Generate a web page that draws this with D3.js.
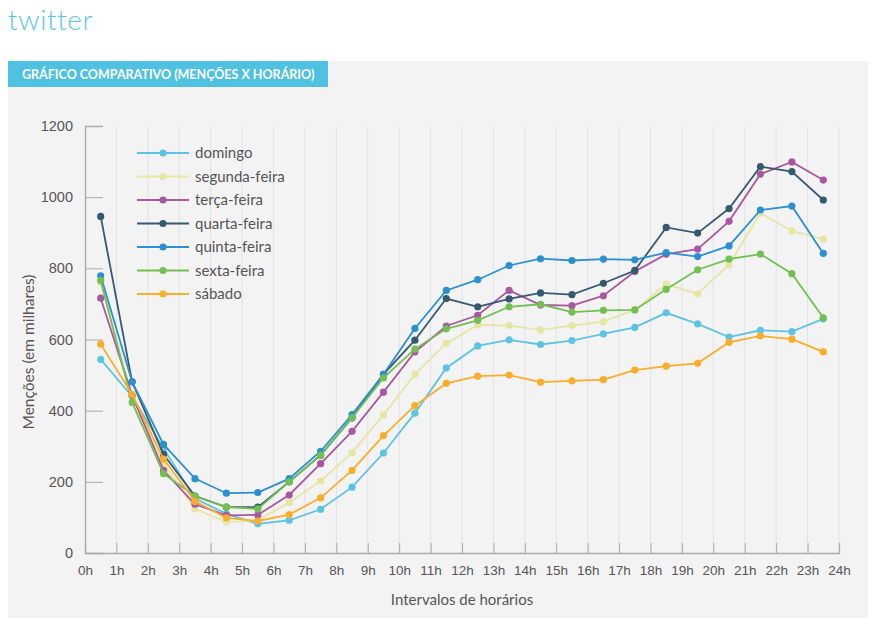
<!DOCTYPE html>
<html><head><meta charset="utf-8">
<script src="https://cdn.jsdelivr.net/npm/d3@7"></script>
<style>
body{margin:0;background:#fff;}
svg{display:block;font-family:Lato,"Open Sans",sans-serif;}
</style></head>
<body><svg id="c" width="881" height="618"></svg>
<script>
const hours = d3.range(0, 25);
const hourLabels = hours.map(h => h + "h");
const yTicks = [0, 200, 400, 600, 800, 1000, 1200];
const seriesNames = ["domingo","segunda-feira","terça-feira","quarta-feira","quinta-feira","sexta-feira","sábado"];
const seriesColors = ["#5cc4e2","#e5e6a2","#a9589f","#35596f","#2b8fd0","#72bf52","#f9ad2b"];
const domingo = [544,440,294,153,110,82,92,123,185,281,393,520,582,599,586,597,616,634,675,644,607,626,622,658];
const segunda = [760,439,251,124,87,92,142,202,282,388,502,589,641,639,627,639,650,683,756,728,810,955,905,882];
const terca   = [716,443,232,137,106,107,163,251,342,452,565,638,668,738,697,695,723,791,840,854,932,1065,1099,1048];
const quarta  = [946,481,277,160,129,129,200,275,380,502,598,715,692,714,731,726,758,794,915,899,968,1086,1072,992];
const quinta  = [779,481,305,209,168,170,209,286,389,502,631,738,768,808,827,822,826,824,844,833,863,964,975,842];
const sexta   = [766,423,223,160,129,124,200,275,380,492,573,630,654,692,699,677,682,683,741,796,826,840,785,661];
const sabado  = [587,446,264,145,99,90,108,155,232,330,414,477,497,500,480,484,487,514,525,533,592,610,601,565];
const seriesValues = [domingo,segunda,terca,quarta,quinta,sexta,sabado];

const svg = d3.select("#c");
// title
svg.append("text").attr("x",8).attr("y",30).attr("fill","#5cc4e2")
  .attr("font-size",28).attr("font-weight",300).attr("letter-spacing",0.6).text("twitter");
// panel
svg.append("rect").attr("x",8).attr("y",61).attr("width",860).attr("height",557).attr("fill","#f4f3f4");
svg.append("rect").attr("x",8).attr("y",61).attr("width",320).attr("height",26).attr("fill","#4fc1e1");
svg.append("text").attr("x",22).attr("y",79).attr("fill","#fff").attr("font-size",12.5).attr("font-weight",700)
  .text("GRÁFICO COMPARATIVO (MENÇÕES X HORÁRIO)");

const x = d3.scaleLinear().domain([0,24]).range([85,839]);
const y = d3.scaleLinear().domain([0,1200]).range([553,126]);

// vertical gridlines
svg.append("g").selectAll("line").data(hours.slice(1)).join("line")
  .attr("x1",d=>x(d)).attr("x2",d=>x(d)).attr("y1",126).attr("y2",553)
  .attr("stroke","#e2e1e3").attr("stroke-width",1);

// x axis
const gx = svg.append("g").attr("transform","translate(0,553)")
  .call(d3.axisBottom(x).tickValues(hours).tickFormat((d,i)=>hourLabels[i]).tickSize(-10).tickPadding(12));
gx.select(".domain").attr("stroke","#aaa").attr("stroke-width",1.3);
gx.selectAll(".tick line").attr("stroke","#aaa");
gx.selectAll(".tick text").attr("fill","#555").attr("font-size",13.5);

// y axis
const gy = svg.append("g").attr("transform","translate(85,0)")
  .call(d3.axisLeft(y).tickValues(yTicks).tickFormat(d3.format("d")).tickSize(-18).tickPadding(12));
gy.select(".domain").attr("stroke","#aaa").attr("stroke-width",1.3);
gy.selectAll(".tick line").attr("stroke","#aaa");
gy.selectAll(".tick text").attr("fill","#555").attr("font-size",14.5);

svg.append("text").attr("transform","translate(34,352) rotate(-90)").attr("text-anchor","middle")
  .attr("fill","#555").attr("font-size",15.5).text("Menções (em milhares)");
svg.append("text").attr("x",462).attr("y",605).attr("text-anchor","middle")
  .attr("fill","#555").attr("font-size",15).text("Intervalos de horários");

// lines
const line = d3.line().x((d,i)=>x(i+0.5)).y(d=>y(d));
seriesValues.forEach((vals,k)=>{
  const g = svg.append("g");
  g.append("path").datum(vals).attr("d",line).attr("fill","none")
    .attr("stroke",seriesColors[k]).attr("stroke-width",1.8);
  g.selectAll("circle").data(vals).join("circle")
    .attr("cx",(d,i)=>x(i+0.5)).attr("cy",d=>y(d)).attr("r",3.6).attr("fill",seriesColors[k]);
});

// legend
const lg = svg.append("g").attr("transform","translate(137,153)");
seriesNames.forEach((n,k)=>{
  const row = lg.append("g").attr("transform",`translate(0,${k*23.5})`);
  row.append("line").attr("x1",0).attr("x2",52).attr("stroke",seriesColors[k]).attr("stroke-width",1.8);
  row.append("circle").attr("cx",26).attr("r",3.6).attr("fill",seriesColors[k]);
  row.append("text").attr("x",58).attr("y",5).attr("fill","#555").attr("font-size",15).text(n);
});
</script></body></html>
